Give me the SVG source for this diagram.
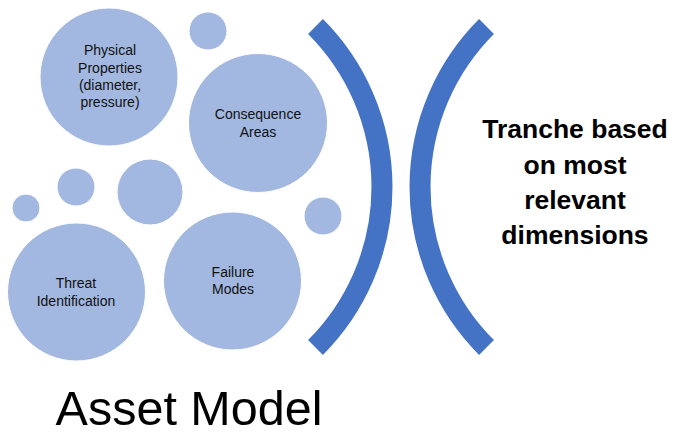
<svg xmlns="http://www.w3.org/2000/svg" width="674" height="432" viewBox="0 0 674 432">
  <style>
    .bubble { fill: #A2B8E0; stroke: #ffffff; stroke-width: 1; }
    .label { font-family: "Liberation Sans", Arial, sans-serif; font-size: 14px; fill: #111111; text-anchor: middle; }
    .bracket { fill: none; stroke: #4472C4; stroke-width: 21; stroke-linecap: butt; }
    .side { font-family: "Liberation Sans", Arial, sans-serif; font-size: 26.5px; font-weight: bold; fill: #000000; text-anchor: middle; }
    .title { font-family: "Liberation Sans", Arial, sans-serif; font-size: 48.5px; fill: #000000; text-anchor: middle; }
  </style>
  <rect width="674" height="432" fill="#ffffff"/>

  <!-- decorative small bubbles -->
  <g id="dots">
    <circle class="bubble" cx="208" cy="31" r="19"/>
    <circle class="bubble" cx="76" cy="187" r="19"/>
    <circle class="bubble" cx="150" cy="192" r="33"/>
    <circle class="bubble" cx="26" cy="208" r="14"/>
    <circle class="bubble" cx="323" cy="216" r="19"/>
  </g>

  <g id="physical-properties">
    <circle class="bubble" cx="109" cy="77" r="69"/>
    <text class="label" x="110" y="55">Physical</text>
    <text class="label" x="110" y="73">Properties</text>
    <text class="label" x="110" y="90">(diameter,</text>
    <text class="label" x="110" y="107">pressure)</text>
  </g>

  <g id="consequence-areas">
    <circle class="bubble" cx="258" cy="123" r="69.5"/>
    <text class="label" x="258" y="119">Consequence</text>
    <text class="label" x="258" y="137">Areas</text>
  </g>

  <g id="threat-identification">
    <circle class="bubble" cx="76.5" cy="292" r="69"/>
    <text class="label" x="76" y="288">Threat</text>
    <text class="label" x="76" y="306">Identification</text>
  </g>

  <g id="failure-modes">
    <circle class="bubble" cx="232.5" cy="281" r="69"/>
    <text class="label" x="233" y="277">Failure</text>
    <text class="label" x="233" y="294">Modes</text>
  </g>

  <!-- facing brackets -->
  <g id="connectors">
    <path class="bracket" d="M 315.5 26.5 A 227 227 0 0 1 315.5 347.5"/>
    <path class="bracket" d="M 486.5 26.5 A 227 227 0 0 0 486.5 347.5"/>
  </g>

  <g id="tranche">
    <text class="side" x="575" y="138">Tranche based</text>
    <text class="side" x="575" y="174">on most</text>
    <text class="side" x="575" y="209">relevant</text>
    <text class="side" x="575" y="244">dimensions</text>
  </g>

  <g id="asset-model">
    <text class="title" x="189" y="425">Asset Model</text>
  </g>
</svg>
